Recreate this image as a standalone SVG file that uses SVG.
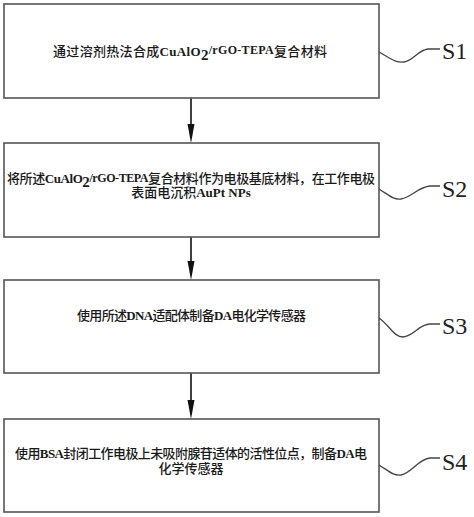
<svg xmlns="http://www.w3.org/2000/svg" width="474" height="517" viewBox="0 0 474 517">
<style>
.box{fill:#fff;stroke:#555;stroke-width:1.6}
.t{font-family:"Liberation Serif","Noto Sans CJK SC",serif;font-size:13px;fill:#1a1a1a;font-weight:500}
.b{font-weight:bold}
.lbl{font-family:"Liberation Serif",serif;font-size:24px;fill:#222}
.sq{fill:none;stroke:#444;stroke-width:1.3}
.c{stroke:#111;stroke-width:1.6;fill:none}
.ah{fill:#111}
</style>
<rect width="474" height="517" fill="#fff"/>
<g id="connectors">
<path class="c" d="M191,98 L191,124"/>
<path class="ah" d="M187.5,124 L194.5,124 L191,143 Z"/>
<path class="c" d="M191,237 L191,261"/>
<path class="ah" d="M187.5,261 L194.5,261 L191,280 Z"/>
<path class="c" d="M191,373 L191,400"/>
<path class="ah" d="M187.5,400 L194.5,400 L191,419 Z"/>
</g>
<g id="S1">
<rect class="box" x="4" y="4" width="375" height="94"/>
<text class="t" x="53" y="56" textLength="274" lengthAdjust="spacing">通过溶剂热法合成<tspan class="b">CuAlO</tspan><tspan class="b" dy="4" font-size="15">2</tspan><tspan class="b" dy="-6" font-size="12">/rGO-TEPA</tspan><tspan dy="2">复合材料</tspan></text>
<path class="sq" d="M379,52 C390,58 395,63 404,62 C413,61 418,50 428,49 L440,49"/>
<text class="lbl" x="442" y="59">S1</text>
</g>
<g id="S2">
<rect class="box" x="4" y="143" width="375" height="94"/>
<text class="t" x="7" y="183" textLength="368" lengthAdjust="spacing">将所述<tspan class="b">CuAlO</tspan><tspan class="b" dy="4" font-size="15">2</tspan><tspan class="b" dy="-5" font-size="12">/rGO-TEPA</tspan><tspan dy="1">复合材料作为电极基底材料，在工作电极</tspan></text>
<text class="t" x="191" y="197" text-anchor="middle">表面电沉积<tspan class="b">AuPt NPs</tspan></text>
<path class="sq" d="M379,189 C389,195 393,200 401,199 C412,197 418,187 430,186 L440,186"/>
<text class="lbl" x="442" y="197">S2</text>
</g>
<g id="S3">
<rect class="box" x="4" y="280" width="375" height="93"/>
<text class="t" x="77" y="320" textLength="229" lengthAdjust="spacing">使用所述<tspan class="b">DNA</tspan>适配体制备<tspan class="b">DA</tspan>电化学传感器</text>
<path class="sq" d="M379,318 C390,326 394,337 403,337 C414,336 419,324 430,324 L440,324"/>
<text class="lbl" x="442" y="334">S3</text>
</g>
<g id="S4">
<rect class="box" x="4" y="419" width="375" height="93"/>
<text class="t" x="15" y="458" textLength="352" lengthAdjust="spacing">使用<tspan class="b">BSA</tspan>封闭工作电极上未吸附腺苷适体的活性位点，制备<tspan class="b">DA</tspan>电</text>
<text class="t" x="191" y="473" text-anchor="middle">化学传感器</text>
<path class="sq" d="M379,465 C389,471 393,476 401,475 C412,473 418,459 430,458 L440,458"/>
<text class="lbl" x="442" y="470">S4</text>
</g>
</svg>
